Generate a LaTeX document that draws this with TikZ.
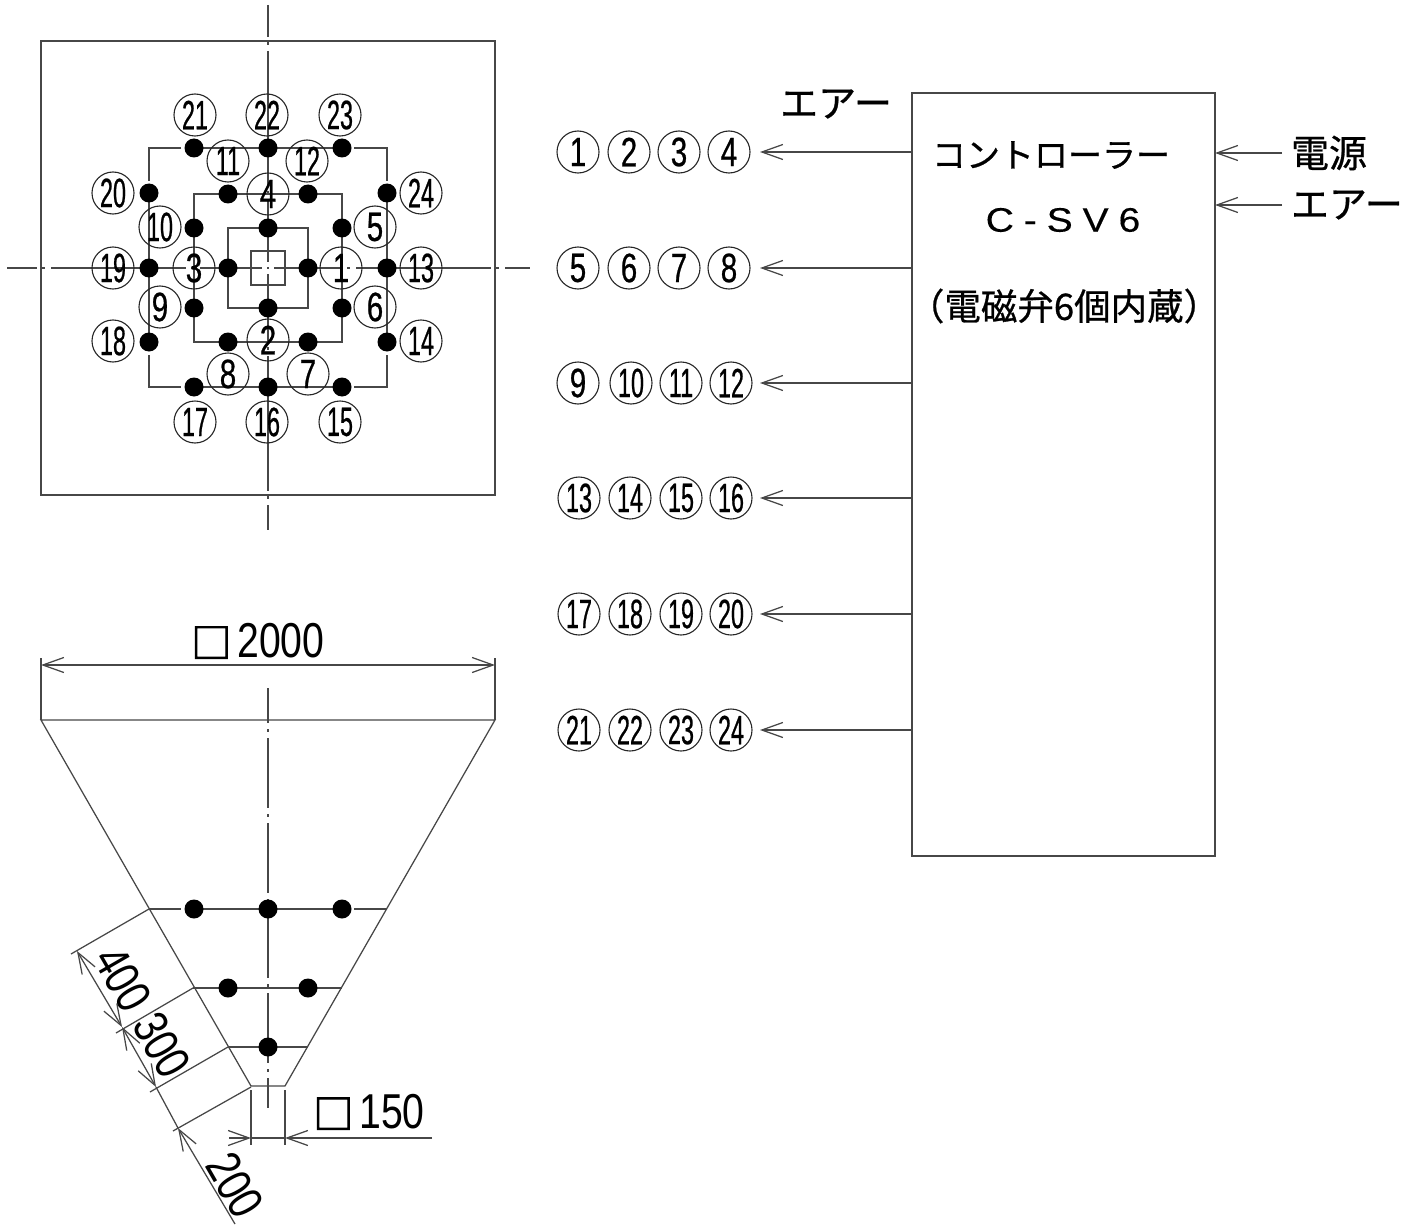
\documentclass[tikz,border=0pt]{standalone}
\usepackage{fontspec}
\setmainfont{Liberation Sans}
\newfontfamily\cjk[FakeBold=0.7]{Noto Sans CJK JP}
\newfontfamily\cjkbox[FakeBold=2.5]{Noto Sans CJK JP}
\newfontfamily\onefont[FakeStretch=0.72,FakeBold=0.6]{Liberation Sans}
\newfontfamily\twofont[FakeStretch=0.57,FakeBold=0.6]{Liberation Sans}
\newfontfamily\dimfont[FakeStretch=0.8]{Liberation Sans}
\newfontfamily\typefont[FakeStretch=1.15,FakeBold=0.3,LetterSpace=29]{Liberation Sans}
\usetikzlibrary{arrows.meta,positioning}

\begin{document}
\begin{tikzpicture} [
		x=1pt, y=-1pt, color=black!72,
		every path/.style = {line width=1.25pt},
		every node/.style = {inner sep=0pt, outer sep=0pt},
		one/.style   = { circle, draw=black!85, line width=1.1pt, minimum size=42pt,
			font=\onefont\fontsize{41}{41}\selectfont, text=black },
		two/.style   = { one, font=\twofont\fontsize{41}{41}\selectfont },
		dot/.style   = { circle, fill=black, minimum size=19pt },
		block/.style = { rectangle, draw, minimum width=303pt, minimum height=763pt },
		jp/.style    = { font=\cjk\fontsize{34}{34}\selectfont, text=black },
		jpbig/.style = { font=\cjk\fontsize{38}{38}\selectfont, text=black },
		size/.style  = { font=\dimfont\fontsize{49}{49}\selectfont, text=black },
		line/.style  = { draw, -{Straight Barb[length=21pt,width=15pt]} },
		both/.style  = { draw, {Straight Barb[length=21pt,width=15pt]}-{Straight Barb[length=21pt,width=15pt]} },
		axis/.style  = { draw, dash pattern=on 135pt off 5pt on 3pt off 6pt },
		cone/.style  = { draw, dash pattern=on 70pt off 6pt on 3pt off 6pt },
	]
	\useasboundingbox (0,0) rectangle (1410,1225);

	% Plan view
	\node [draw, minimum size=454pt] (plate) at (268,268) {};
	\node [draw, minimum size=34pt] (hole) at (268,268) {};
	\draw [axis, dash phase=105pt] (7,268) -- (262,268);
	\draw [axis, dash phase=67pt] (274,268) -- (530,268);
	\draw [axis, dash phase=103pt] (268,5) -- (268,262);
	\draw [axis, dash phase=67pt] (268,274) -- (268,530);
	\draw (267,268) -- (269,268);
	\draw (228,228) rectangle (308,308);
	\draw (194,194) rectangle (342,342);
	\draw (181,148) -| (149,181);
	\draw (149,193) -- (149,342);
	\draw (149,355) |- (181,387);
	\draw (194,148) -- (342,148) (194,387) -- (342,387);
	\draw (354,148) -| (387,181);
	\draw (387,193) -- (387,342);
	\draw (387,355) |- (354,387);

	% Nozzles of the plan view
	\node [dot] (n1) at (308,268) {};
	\node [dot] (n2) at (268,308) {};
	\node [dot] (n3) at (228,268) {};
	\node [dot] (n4) at (268,228) {};
	\node [dot] (n5) at (342,228) {};
	\node [dot] (n6) at (342,308) {};
	\node [dot] (n7) at (308,342) {};
	\node [dot] (n8) at (228,342) {};
	\node [dot] (n9) at (194,308) {};
	\node [dot] (n10) at (194,228) {};
	\node [dot] (n11) at (228,194) {};
	\node [dot] (n12) at (308,194) {};
	\node [dot] (n13) at (387,268) {};
	\node [dot] (n14) at (387,342) {};
	\node [dot] (n15) at (342,387) {};
	\node [dot] (n16) at (268,387) {};
	\node [dot] (n17) at (194,387) {};
	\node [dot] (n18) at (149,342) {};
	\node [dot] (n19) at (149,268) {};
	\node [dot] (n20) at (149,193) {};
	\node [dot] (n21) at (194,148) {};
	\node [dot] (n22) at (268,148) {};
	\node [dot] (n23) at (342,148) {};
	\node [dot] (n24) at (387,193) {};

	% Numbers of the plan view
	\node [one] (p1) at (341,268) {1};
	\node [one] (p2) at (268,340) {2};
	\node [one] (p3) at (194,268) {3};
	\node [one] (p4) at (268,194) {4};
	\node [one] (p5) at (375,227) {5};
	\node [one] (p6) at (375,307) {6};
	\node [one] (p7) at (308,374) {7};
	\node [one] (p8) at (228,374) {8};
	\node [one] (p9) at (160,307) {9};
	\node [two] (p10) at (160,227) {10};
	\node [two] (p11) at (228,161) {11};
	\node [two] (p12) at (307,161) {12};
	\node [two] (p13) at (421,268) {13};
	\node [two] (p14) at (421,341) {14};
	\node [two] (p15) at (340,422) {15};
	\node [two] (p16) at (267,422) {16};
	\node [two] (p17) at (195,422) {17};
	\node [two] (p18) at (113,341) {18};
	\node [two] (p19) at (113,268) {19};
	\node [two] (p20) at (113,193) {20};
	\node [two] (p21) at (195,115) {21};
	\node [two] (p22) at (267,115) {22};
	\node [two] (p23) at (340,115) {23};
	\node [two] (p24) at (421,193) {24};

	% Controller
	\node [block] (ctrl) at (1063.5,474.5) {};
	\node [jp] (ctrlname) at (1051,155) {コントローラー};
	\node [jp, font=\typefont\fontsize{34}{34}\selectfont] (ctrltype) at (1063,220) {C-SV6};
	\node [jp, font=\cjk\fontsize{36.5}{36.5}\selectfont] (ctrlnote) at (1064,306) {（電磁弁6個内蔵）};
	\node [jpbig] (airout) at (836,104) {エアー};
	\node [jpbig, anchor=west] (power) at (1291,153) {電源};
	\node [jpbig, anchor=west] (airin) at (1291,205) {エアー};
	\path [line] (power.west) ++(-9,0) coordinate (pw) -- (ctrl.east |- pw);
	\path [line] (airin.west) ++(-9,0) coordinate (ai) -- (ctrl.east |- ai);

	% Outlets
	\node [one] (a1) at (578,152) {1};
	\node [one] (a2) at (629,152) {2};
	\node [one] (a3) at (679,152) {3};
	\node [one] (a4) at (729,152) {4};
	\node [one] (b1) at (578,268) {5};
	\node [one] (b2) at (629,268) {6};
	\node [one] (b3) at (679,268) {7};
	\node [one] (b4) at (729,268) {8};
	\node [one] (c1) at (578,383) {9};
	\node [two] (c2) at (631,383) {10};
	\node [two] (c3) at (681,383) {11};
	\node [two] (c4) at (731,383) {12};
	\node [two] (d1) at (579,498) {13};
	\node [two] (d2) at (630,498) {14};
	\node [two] (d3) at (681,498) {15};
	\node [two] (d4) at (731,498) {16};
	\node [two] (e1) at (579,614) {17};
	\node [two] (e2) at (630,614) {18};
	\node [two] (e3) at (681,614) {19};
	\node [two] (e4) at (731,614) {20};
	\node [two] (f1) at (579,730) {21};
	\node [two] (f2) at (630,730) {22};
	\node [two] (f3) at (681,730) {23};
	\node [two] (f4) at (731,730) {24};
	\begin{scope} [shorten >=10pt]
		\path [line] (ctrl.west |- a4) -- (a4.east);
		\path [line] (ctrl.west |- b4) -- (b4.east);
	\end{scope}
	\begin{scope} [shorten >=8pt]
		\path [line] (ctrl.west |- c4) -- (c4.east);
		\path [line] (ctrl.west |- d4) -- (d4.east);
		\path [line] (ctrl.west |- e4) -- (e4.east);
		\path [line] (ctrl.west |- f4) -- (f4.east);
	\end{scope}

	% Side view
	\coordinate (tl) at (41,720);
	\coordinate (tr) at (495,720);
	\coordinate (bl) at (251,1086);
	\coordinate (br) at (285,1086);
	\draw (tl) -- (tr) -- (br) -- (bl) -- cycle;
	\draw [cone, dash phase=35pt] (268,688) -- (268,1108);
	\draw (149,909) -- (181,909) (194,909) -- (342,909) (354,909) -- (387,909);
	\draw (193,988) -- (342,988);
	\draw (228,1047) -- (308,1047);
	\node [dot] (s1) at (194,909) {};
	\node [dot] (s2) at (268,909) {};
	\node [dot] (s3) at (342,909) {};
	\node [dot] (s4) at (228,988) {};
	\node [dot] (s5) at (308,988) {};
	\node [dot] (s6) at (268,1047) {};

	% Dimensions
	\draw (tl) -- (41,658);
	\draw (tr) -- (495,658);
	\path [both] (41,665) -- (495,665);
	\node [size] (wide) at (258,641) {{\cjkbox\fontsize{40}{40}\selectfont □}\hspace{6pt}2000};

	\draw (bl) ++(0,4) -- (251,1145);
	\draw (br) ++(0,4) -- (285,1145);
	\path [line] (229,1138) -- (251,1138);
	\path [line] (432,1138) -- (285,1138);
	\draw (251,1138) -- (285,1138);
	\node [size] (neck) at (369,1112) {{\cjkbox\fontsize{40}{40}\selectfont □}\hspace{6pt}150};

	\coordinate (m1) at (77,951);
	\coordinate (m2) at (122,1027);
	\coordinate (m3) at (156,1087);
	\coordinate (m4) at (178,1128);
	\draw (149,909) -- (71,954);
	\draw (193,988) -- (116,1033);
	\draw (228,1047) -- (150,1092);
	\draw (251,1087) -- (173,1131);
	\path [both] (m1) -- (m2);
	\path [both] (m2) -- (m3);
	\path [line] (235,1224) -- (m4);
	\draw (m3) -- (m4);
	\node [size, rotate=-60] (d400) at (123,979) {400};
	\node [size, rotate=-60] (d300) at (162,1045) {300};
	\node [size, rotate=-60] (d200) at (235,1185) {200};
\end{tikzpicture}
\end{document}
